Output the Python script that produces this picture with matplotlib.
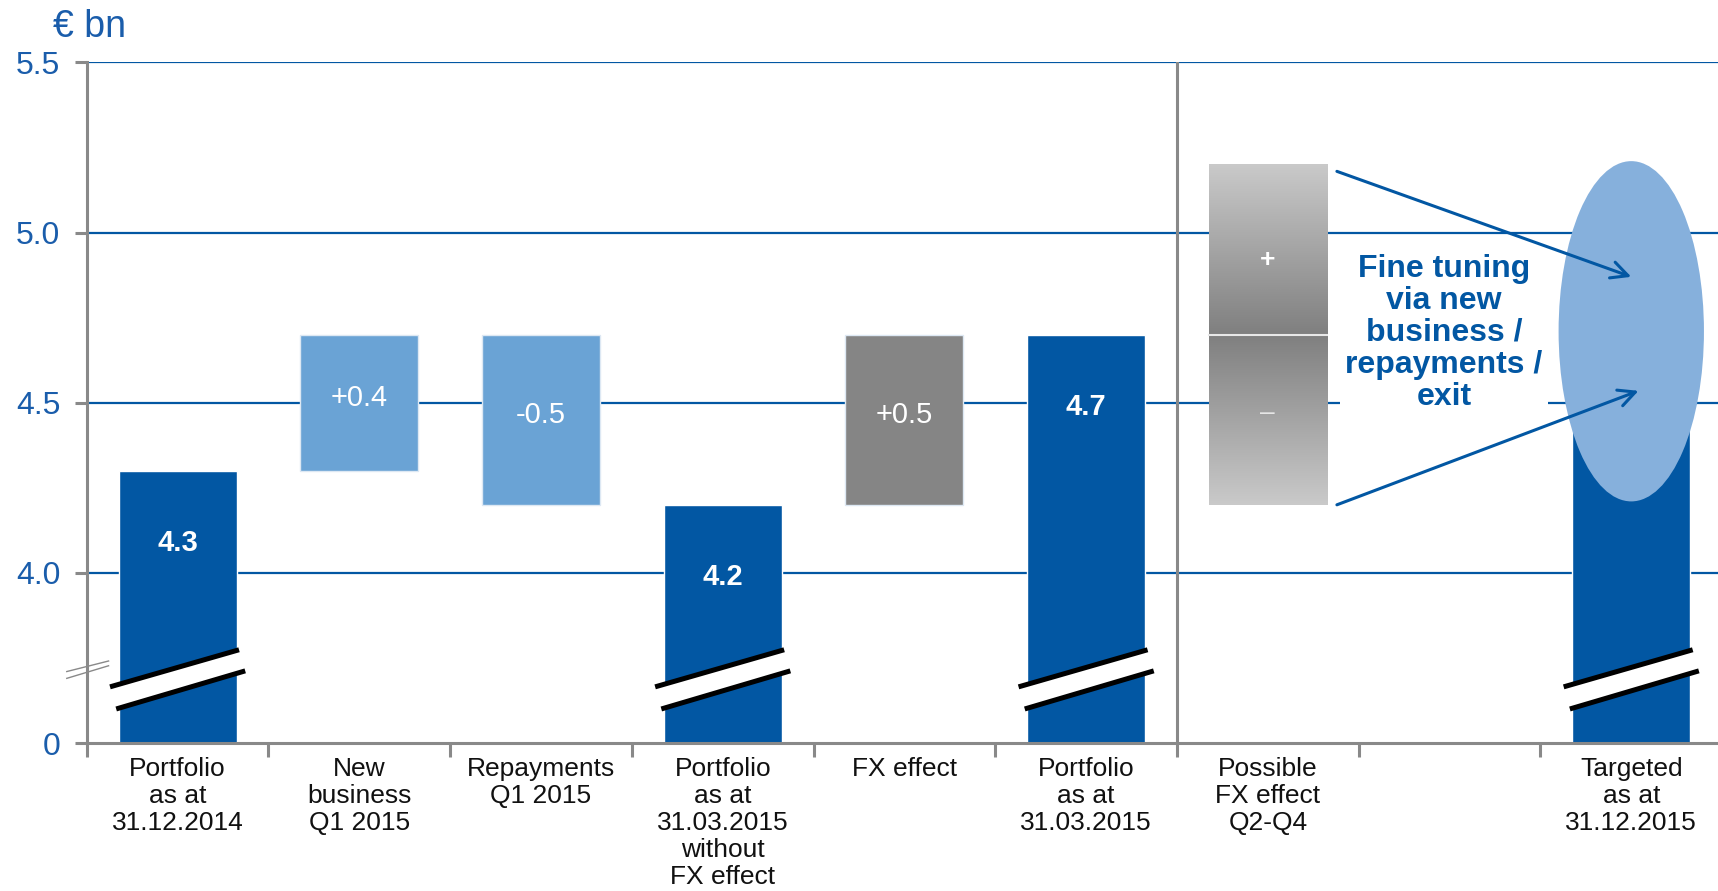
import numpy as np
import matplotlib
matplotlib.use("Agg")
import matplotlib.pyplot as plt
from matplotlib.patches import Ellipse, Polygon

# -----------------------------------------------------------------------------
# Data (EUR bn)

categories = ["Portfolio\nas at\n31.12.2014", "New\nbusiness\nQ1 2015", "Repayments\nQ1 2015",
              "Portfolio\nas at\n31.03.2015\nwithout\nFX effect", "FX effect",
              "Portfolio\nas at\n31.03.2015", "Possible\nFX effect\nQ2-Q4", "",
              "Targeted\nas at\n31.12.2015"]
steps = [4.3, 0.4, -0.5, 4.2, 0.5, 4.7]
step_kind = ["total", "new", "repay", "total", "fx", "total"]
fx_range = [4.2, 4.7, 5.2]      # possible FX effect: low / mid / high
target_value = 4.7
target_range = [4.21, 5.21]
tick_values = [3.5, 4.0, 4.5, 5.0, 5.5]
tick_labels = ["0", "4.0", "4.5", "5.0", "5.5"]
note = "Fine tuning\nvia new\nbusiness /\nrepayments /\nexit"

# -----------------------------------------------------------------------------
# Style

dark_blue = "#0257A3"
light_blue = "#6AA3D5"
fx_grey = "#858585"
ellipse_blue = "#86B0DC"
axis_grey = "#898989"
text_blue = "#1A5DAB"
base = 3.5          # broken axis: "0" is drawn at 3.5
width = 0.65

plt.rcParams['font.family'] = ['Liberation Sans', 'DejaVu Sans']

fig = plt.figure(figsize=(17.18, 8.91), dpi=100)
ax = fig.add_axes([0.0505, 0.1661, 0.9519, 0.7638])


def break_mark(x):
    # white band with two black edges across a truncated bar
    up = [(x - 0.372, base + 0.165), (x + 0.338, base + 0.274)]
    lo = [(x - 0.338, base + 0.100), (x + 0.372, base + 0.212)]
    ax.add_patch(Polygon([up[0], up[1], lo[1], lo[0]], closed=True, facecolor="white",
                         edgecolor="none", zorder=4))
    for seg in (up, lo):
        ax.plot([seg[0][0], seg[1][0]], [seg[0][1], seg[1][1]], color="black", lw=3.6,
                solid_capstyle="butt", zorder=5)


# waterfall
running = 0
for i, (v, kind) in enumerate(zip(steps, step_kind)):
    if kind == "total":
        running = v
        ax.bar(i, v - base, bottom=base, width=width, color=dark_blue, edgecolor="white",
               linewidth=1, zorder=3)
        ax.text(i, v - 0.213, f"{v:.1f}", color="white", fontsize=21, fontweight="bold",
                ha="center", va="center", zorder=6)
        break_mark(i)
    else:
        low = min(running, running + v)
        colour = fx_grey if kind == "fx" else light_blue
        ax.bar(i, abs(v), bottom=low, width=width, color=colour, edgecolor="#DDE8F3",
               linewidth=1, zorder=3)
        ax.text(i, low + abs(v) / 2 + 0.015, f"{v:+.1f}", color="white", fontsize=21,
                ha="center", va="center", zorder=6)
        running += v

# possible FX effect: two gradient boxes
x6 = 6
g = np.linspace(0.79, 0.50, 100).reshape(-1, 1)
ax.imshow(np.dstack([g, g, g]), extent=(x6 - width / 2, x6 + width / 2, fx_range[1], fx_range[2]),
          aspect="auto", interpolation="bilinear", zorder=3)
g2 = g[::-1]
ax.imshow(np.dstack([g2, g2, g2]), extent=(x6 - width / 2, x6 + width / 2, fx_range[0], fx_range[1]),
          aspect="auto", interpolation="bilinear", zorder=3)
ax.plot([x6 - width / 2, x6 + width / 2], [fx_range[1], fx_range[1]], color="#E8E8E8", lw=1.5, zorder=4)
ax.text(x6, 4.92, "+", color="white", fontsize=19, fontweight="bold", ha="center", va="center", zorder=6)
ax.text(x6, 4.47, "\u2013", color="#E6E6E6", fontsize=19, ha="center", va="center", zorder=6)

# target
ax.bar(8, target_value - base, bottom=base, width=width, color=dark_blue, edgecolor="white",
       linewidth=1, zorder=3)
break_mark(8)
ax.add_patch(Ellipse((8, sum(target_range) / 2), 0.80, target_range[1] - target_range[0],
                     facecolor=ellipse_blue, edgecolor="none", zorder=4))

# note and arrows
ax.text(6.97, 4.705, note, color=dark_blue, fontsize=23, fontweight="bold", ha="center",
        va="center", linespacing=1.095, zorder=5,
        bbox=dict(facecolor="white", edgecolor="none", pad=4))
arrow = dict(arrowstyle="->", color=dark_blue, lw=2.2, mutation_scale=30, shrinkA=0, shrinkB=0)
ax.annotate("", xy=(8.0, 4.87), xytext=(6.38, 5.18), arrowprops=arrow, zorder=7)
ax.annotate("", xy=(8.04, 4.535), xytext=(6.38, 4.20), arrowprops=arrow, zorder=7)

# divider between actuals and outlook
ax.plot([5.5, 5.5], [base, 5.5], color=axis_grey, lw=2.2, zorder=2)

# y-axis break mark
for y0, y1 in ((3.71, 3.741), (3.69, 3.727)):
    ax.plot([-0.61, -0.38], [y0, y1], color=axis_grey, lw=1, clip_on=False, zorder=5)

# axes
ax.set_xlim(-0.5, 8.5)
ax.set_ylim(base, 5.5)
ax.set_yticks(tick_values)
ax.set_yticklabels(tick_labels)
ax.set_xticks(np.arange(9))
ax.set_xticklabels(categories)
ax.set_xticks(np.arange(-0.5, 9, 1), minor=True)
ax.tick_params(axis="x", which="major", length=0, pad=10, labelsize=19, labelcolor="#111111")
ax.tick_params(axis="x", which="minor", length=10, width=2.2, color=axis_grey)
ax.tick_params(axis="y", length=9, width=2.2, color=axis_grey, pad=10, labelsize=23,
               labelcolor=text_blue)
for lab in ax.get_xticklabels():
    lab.set_linespacing(1.16)
for yv in tick_values[1:]:
    ax.axhline(yv, color=dark_blue, lw=1.6, zorder=1)
for side in ("top", "right"):
    ax.spines[side].set_visible(False)
for side in ("left", "bottom"):
    ax.spines[side].set_color(axis_grey)
    ax.spines[side].set_linewidth(2.2)
    ax.spines[side].set_zorder(6)

fig.text(53 / 1718, 1 - 27 / 891, "\u20ac bn", color=text_blue, fontsize=27, ha="left", va="center")

fig.savefig("out.png", dpi=100)
